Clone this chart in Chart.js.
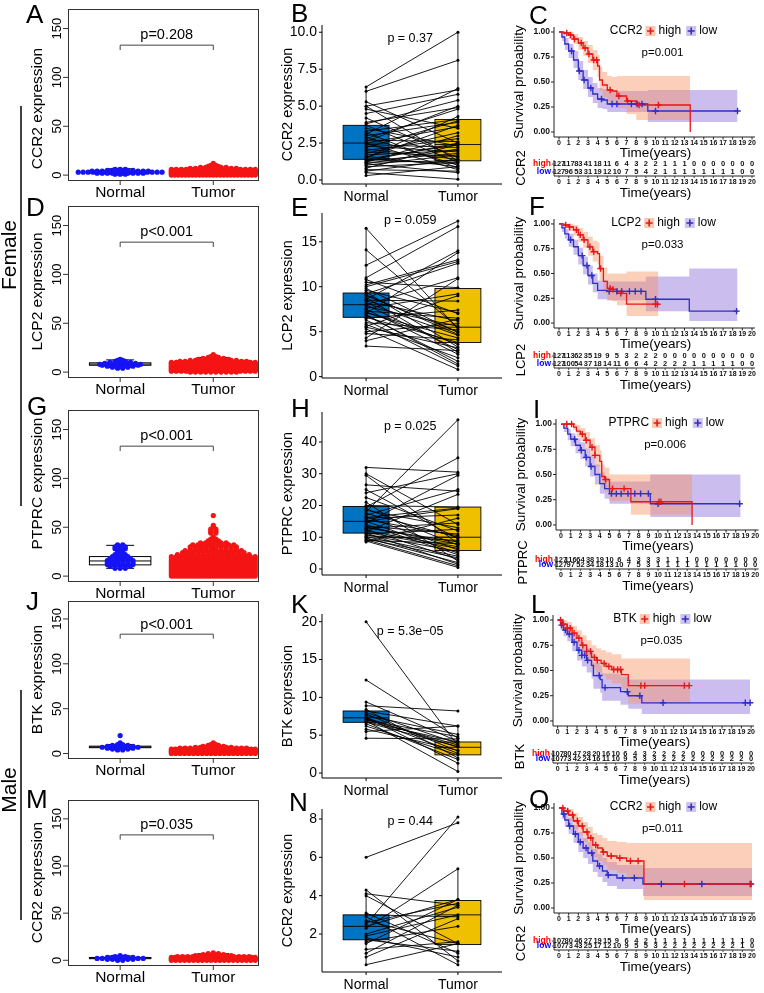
<!DOCTYPE html>
<html>
<head>
<meta charset="utf-8">
<script src="https://cdn.jsdelivr.net/npm/chart.js@4.4.0/dist/chart.umd.min.js"></script>
<style>
html, body { margin: 0; padding: 0; background: #fff; }
#wrap { position: relative; width: 764px; height: 993px; overflow: hidden; background: #fff; }
#wrap canvas { position: absolute; left: 0; top: 0; }
</style>
</head>
<body>
<div id="wrap"></div>
<script>
const W = 764, H = 993;
const FF = '"Liberation Sans", Arial, Helvetica, sans-serif';
const groups = ['Normal', 'Tumor'];

// ---------- left column: dot plots (level -> number of samples) ----------
const dotYTicks = [0, 50, 100, 150];

// A  CCR2 female
const aNormLv = [1, 2, 3, 4, 5, 6];
const aNormN = [3, 10, 18, 12, 6, 3];
const aTumLv = [0, 1, 2, 3, 4, 5, 6, 7, 8, 9, 10, 12];
const aTumN = [25, 55, 60, 50, 40, 28, 18, 10, 6, 3, 2, 1];
const aNormBox = [1, 2.2, 3, 4, 6.5];
const aTumBox = [0, 1.5, 2.5, 4, 8];

// D  LCP2 female
const dNormLv = [4, 5, 6, 7, 8, 9, 10, 11, 12, 13];
const dNormN = [2, 4, 6, 8, 9, 7, 5, 3, 2, 1];
const dTumLv = [0, 1, 2, 3, 4, 5, 6, 7, 8, 9, 10, 11, 12, 13, 14, 15, 16, 18];
const dTumN = [10, 18, 25, 30, 32, 32, 30, 28, 25, 22, 18, 14, 10, 7, 5, 3, 2, 1];
const dNormBox = [5, 7, 8.2, 9.5, 12.5];
const dTumBox = [0.5, 3.5, 6, 9, 15];

// G  PTPRC female
const gNormLv = [8, 10, 12, 14, 16, 18, 20, 22, 24, 26, 28, 30, 32];
const gNormN = [3, 5, 6, 6, 6, 5, 4, 3, 2, 2, 3, 3, 2];
const gTumLv = [0, 2, 4, 6, 8, 10, 12, 14, 16, 18, 20, 22, 24, 26, 28, 30, 32, 34, 36, 38, 40, 44, 46, 48, 50, 52, 62];
const gTumN = [35, 40, 40, 38, 36, 32, 28, 25, 22, 20, 18, 15, 13, 12, 10, 10, 9, 6, 3, 2, 1, 2, 2, 2, 1, 1, 1];
const gNormBox = [8, 11.5, 15.5, 20, 31.5];
const gTumBox = [0, 5, 10, 17, 33];

// J  BTK male
const jNormLv = [4, 5, 6, 7, 8, 9, 10, 12, 20];
const jNormN = [2, 4, 6, 8, 6, 4, 2, 1, 1];
const jTumLv = [0, 1, 2, 3, 4, 5, 6, 7, 8, 9, 10, 11, 12];
const jTumN = [20, 35, 40, 38, 30, 22, 14, 8, 5, 3, 2, 1, 1];
const jNormBox = [4.5, 6.5, 7.3, 8.2, 10];
const jTumBox = [0.3, 2, 3.3, 4.5, 8];

// M  CCR2 male
const mNormLv = [0, 1, 2, 3, 4, 5];
const mNormN = [2, 6, 10, 6, 3, 1];
const mTumLv = [0, 1, 2, 3, 4, 5, 6, 7, 8];
const mTumN = [20, 35, 35, 25, 15, 8, 5, 3, 1];
const mNormBox = [0.5, 1.7, 2.4, 3, 4.5];
const mTumBox = [0.2, 1.5, 2.5, 3.8, 7];

// ---------- middle column: paired samples ----------
const bNorm = [6.3, 6.0, 5.3, 5.0, 5.0, 4.8, 4.5, 4.2, 3.9, 3.8, 3.7, 3.5, 3.3, 3.2, 3.1, 3.0, 2.9, 2.8, 2.7, 2.6, 2.5, 2.5, 2.4, 2.3, 2.2, 2.1, 2.0, 1.9, 1.8, 1.7, 1.6, 1.5, 1.4, 1.4, 1.3, 1.3, 1.2, 1.2, 1.1, 1.1, 1.0, 0.9, 0.8, 0.7, 0.6, 0.5, 0.3, 1.5];
const bTum = [10.0, 8.1, 2.5, 1.3, 6.1, 3.5, 5.8, 1.5, 4.9, 5.4, 1.2, 2.3, 4.1, 0.8, 6.2, 3.9, 1.0, 4.8, 2.6, 5.0, 0.7, 3.6, 2.2, 1.9, 4.0, 1.4, 2.8, 1.6, 3.2, 2.0, 0.9, 4.3, 2.4, 1.1, 2.5, 1.8, 3.0, 1.3, 2.1, 0.5, 1.7, 1.2, 2.4, 0.6, 1.4, 0.05, 0.9, 3.7];
const bNormBox = [0.3, 1.4, 2.5, 3.7, 6.3];
const bTumBox = [0.05, 1.3, 2.4, 4.1, 10];
const bTicks = [0, 2.5, 5, 7.5, 10];

const eNorm = [16.5, 14.1, 12.4, 11.0, 10.5, 10.2, 10.0, 9.8, 9.6, 9.4, 9.2, 9.0, 8.8, 8.6, 8.4, 8.2, 8.0, 8.0, 7.8, 7.6, 7.5, 7.3, 7.1, 7.0, 6.8, 6.6, 6.5, 6.3, 6.0, 5.8, 5.6, 5.3, 5.0, 4.8, 4.3, 4.0, 3.4, 9.1, 7.2, 8.5, 6.9, 10.8, 5.5];
const eTum = [5.3, 5.5, 17.3, 16.7, 9.9, 13.0, 12.8, 4.9, 7.1, 3.3, 12.6, 5.0, 2.7, 14.0, 6.2, 4.6, 11.0, 3.0, 5.6, 9.2, 2.5, 6.5, 4.3, 13.8, 1.7, 3.8, 7.4, 1.2, 5.2, 2.1, 9.0, 0.8, 5.9, 4.1, 10.9, 6.4, 2.9, 4.7, 3.6, 8.4, 1.4, 7.0, 3.2];
const eNormBox = [3.4, 6.6, 8.0, 9.3, 16.5];
const eTumBox = [0.8, 3.8, 5.5, 9.8, 17.3];
const eTicks = [0, 5, 10, 15];

const hNorm = [32, 30, 29.5, 26.5, 25, 24, 22.5, 21, 20, 19.5, 19, 18.5, 18, 17.5, 17, 16.5, 16, 15.5, 15, 15, 14.5, 14, 13.5, 13, 12.8, 12.5, 12, 11.8, 11.5, 11.3, 11, 10.8, 10.5, 10.2, 10, 9.8, 9.5, 9.2, 9, 8.8, 8.5, 16.2, 13.2];
const hTum = [30.5, 14, 8, 24.5, 9.5, 30, 12, 2.5, 19.5, 35, 7.5, 13, 47, 10, 25, 6, 17, 10.5, 5, 19, 29.5, 4.5, 11, 8.5, 14.5, 3, 7, 23.5, 6.5, 1.5, 12.5, 5.5, 9, 4, 10, 2, 3.5, 1, 8, 0.5, 16, 19.2, 7.8];
const hNormBox = [8.5, 11.3, 15, 19.7, 32];
const hTumBox = [0.5, 5.8, 10, 19.5, 47];
const hTicks = [0, 10, 20, 30, 40];

const kNorm = [20, 12.3, 9.4, 8.9, 8.2, 8.0, 7.8, 7.6, 7.4, 7.3, 7.2, 7.0, 6.9, 6.8, 6.7, 6.5, 6.2, 5.8, 5.5, 4.6, 8.4, 7.1];
const kTum = [3.6, 4.6, 4.2, 8.2, 6.2, 3.9, 2.9, 5.1, 1.3, 3.4, 2.6, 4.8, 0.2, 4.1, 3.5, 1.8, 2.4, 3.0, 6.2, 4.5, 2.0, 3.7];
const kNormBox = [4.5, 6.7, 7.3, 8.2, 9.5];
const kTumBox = [0.2, 2.4, 3.4, 4.1, 6.2];
const kTicks = [0, 5, 10, 15, 20];

const nNorm = [6.0, 4.3, 4.1, 4.0, 3.0, 2.9, 2.7, 2.5, 2.4, 2.3, 2.0, 1.9, 1.8, 1.7, 1.6, 1.5, 1.2, 1.0, 0.8, 0.4, 2.6, 3.1];
const nTum = [7.8, 0.6, 3.5, 1.5, 2.9, 0.4, 1.5, 8.1, 3.8, 5.4, 3.4, 3.0, 0.8, 1.1, 2.4, 3.8, 1.6, 3.5, 2.8, 1.5, 3.6, 1.0];
const nNormBox = [0.4, 1.7, 2.4, 3.0, 4.3];
const nTumBox = [0.4, 1.45, 3.0, 3.75, 5.4];
const nTicks = [2, 4, 6, 8];

// ---------- right column: survival ----------
const kmXTicks = [0, 1, 2, 3, 4, 5, 6, 7, 8, 9, 10, 11, 12, 13, 14, 15, 16, 17, 18, 19, 20];
const kmYTicks = [0, 0.25, 0.5, 0.75, 1];
const kmYLabels = ['0.00', '0.25', '0.50', '0.75', '1.00'];

// C  CCR2 female
const cHiT = [0, 0.5, 1, 1.5, 2, 2.5, 3, 3.5, 4, 4.2, 4.5, 5, 5.5, 6, 7, 8, 9, 13.6];
const cHiS = [1, 0.99, 0.97, 0.93, 0.89, 0.84, 0.78, 0.72, 0.66, 0.52, 0.47, 0.42, 0.41, 0.36, 0.31, 0.27, 0.27, 0];
const cHiU = [1, 1, 1, 0.98, 0.95, 0.91, 0.87, 0.82, 0.77, 0.65, 0.6, 0.56, 0.55, 0.56, 0.56, 0.56, 0.56, 0.56];
const cHiL = [1, 0.97, 0.93, 0.88, 0.82, 0.76, 0.69, 0.62, 0.55, 0.41, 0.35, 0.3, 0.29, 0.24, 0.18, 0.12, 0.12, 0.12];
const cHiCens = [0.8, 1.2, 1.6, 2.3, 2.7, 3.1, 3.6, 3.9, 5.3, 6.2, 7.1, 8.3, 10.3];
const cLoT = [0, 0.3, 0.6, 1, 1.5, 2, 2.5, 3, 3.5, 4, 4.5, 5, 9.2, 18.5];
const cLoS = [1, 0.95, 0.88, 0.81, 0.72, 0.61, 0.52, 0.44, 0.38, 0.33, 0.32, 0.28, 0.21, 0.21];
const cLoU = [1, 0.99, 0.94, 0.88, 0.81, 0.71, 0.62, 0.55, 0.49, 0.44, 0.43, 0.41, 0.42, 0.42];
const cLoL = [1, 0.91, 0.82, 0.74, 0.64, 0.52, 0.43, 0.35, 0.29, 0.24, 0.23, 0.2, 0.1, 0.1];
const cLoCens = [1.3, 2.1, 2.6, 3.3, 4.4, 5.5, 6.0, 7.5, 8.1, 8.6, 10.0, 18.5];
const cRiskHi = [127, 117, 83, 41, 18, 11, 6, 4, 3, 2, 2, 1, 1, 1, 0, 0, 0, 0, 0, 0, 0];
const cRiskLo = [127, 96, 53, 31, 19, 12, 10, 7, 5, 4, 2, 1, 1, 1, 1, 1, 1, 1, 1, 0, 0];

// F  LCP2 female
const fHiT = [0, 0.5, 1, 1.5, 2, 2.5, 3, 3.5, 4, 4.2, 4.6, 5, 5.5, 6, 7, 10.3];
const fHiS = [1, 0.99, 0.97, 0.94, 0.89, 0.84, 0.77, 0.72, 0.70, 0.55, 0.42, 0.35, 0.34, 0.30, 0.19, 0.19];
const fHiU = [1, 1, 1, 0.99, 0.96, 0.92, 0.87, 0.83, 0.81, 0.68, 0.56, 0.5, 0.5, 0.5, 0.52, 0.52];
const fHiL = [1, 0.97, 0.93, 0.88, 0.82, 0.76, 0.68, 0.62, 0.59, 0.43, 0.3, 0.23, 0.22, 0.18, 0.07, 0.07];
const fHiCens = [0.7, 1.1, 1.8, 2.2, 2.6, 3.2, 3.6, 4.3, 5.3, 5.6, 6.4, 10.0, 10.2];
const fLoT = [0, 0.3, 0.6, 1, 1.5, 2, 2.5, 3, 3.5, 4, 5, 6, 9, 13.5, 18.5];
const fLoS = [1, 0.96, 0.9, 0.84, 0.77, 0.68, 0.58, 0.48, 0.40, 0.33, 0.32, 0.32, 0.24, 0.12, 0.12];
const fLoU = [1, 0.99, 0.95, 0.9, 0.84, 0.76, 0.67, 0.58, 0.5, 0.43, 0.42, 0.42, 0.47, 0.55, 0.55];
const fLoL = [1, 0.92, 0.85, 0.77, 0.69, 0.59, 0.49, 0.39, 0.31, 0.24, 0.23, 0.23, 0.12, 0.02, 0.02];
const fLoCens = [1.2, 2.4, 2.9, 3.4, 5.2, 6.0, 6.5, 7.3, 7.9, 8.5, 10, 18.4];
const fRiskHi = [127, 113, 62, 35, 19, 9, 5, 3, 2, 2, 2, 0, 0, 0, 0, 0, 0, 0, 0, 0, 0];
const fRiskLo = [127, 100, 54, 37, 18, 14, 11, 6, 6, 4, 2, 2, 2, 2, 1, 1, 1, 1, 1, 0, 0];

// I  PTPRC female
const iHiT = [0, 0.5, 1, 1.3, 1.6, 2, 2.5, 3, 3.5, 4, 4.2, 4.5, 5, 7.2, 13.5];
const iHiS = [1, 1, 1, 0.97, 0.93, 0.9, 0.84, 0.77, 0.69, 0.63, 0.48, 0.45, 0.36, 0.23, 0];
const iHiU = [1, 1, 1, 1, 0.99, 0.96, 0.92, 0.86, 0.79, 0.74, 0.6, 0.57, 0.5, 0.5, 0.5];
const iHiL = [1, 1, 1, 0.94, 0.87, 0.83, 0.76, 0.67, 0.58, 0.52, 0.37, 0.33, 0.24, 0.1, 0.1];
const iHiCens = [0.6, 1.1, 2.2, 2.6, 3.2, 3.5, 4.6, 5.3, 6.5, 10.1, 10.3];
const iLoT = [0, 0.3, 0.7, 1, 1.5, 2, 2.5, 3, 3.5, 4, 4.5, 5, 9.2, 18.5];
const iLoS = [1, 0.96, 0.9, 0.85, 0.79, 0.74, 0.67, 0.58, 0.5, 0.41, 0.36, 0.31, 0.21, 0.21];
const iLoU = [1, 1, 0.95, 0.91, 0.86, 0.82, 0.76, 0.68, 0.6, 0.52, 0.47, 0.43, 0.5, 0.5];
const iLoL = [1, 0.92, 0.84, 0.78, 0.71, 0.65, 0.58, 0.48, 0.4, 0.31, 0.26, 0.21, 0.08, 0.08];
const iLoCens = [1.4, 2.1, 2.6, 3.1, 5.2, 5.7, 6.2, 6.9, 7.6, 8.2, 9.0, 10.0, 18.4];
const iRiskHi = [127, 116, 64, 38, 19, 10, 6, 4, 3, 3, 3, 1, 1, 1, 0, 0, 0, 0, 0, 0, 0];
const iRiskLo = [127, 97, 52, 34, 18, 13, 10, 7, 5, 3, 1, 1, 1, 1, 1, 1, 1, 1, 1, 0, 0];

// L  BTK male
const lHiT = [0, 0.5, 1, 1.5, 2, 2.5, 3, 3.5, 4, 4.5, 5, 5.6, 6.6, 7.3, 13.7];
const lHiS = [1, 0.96, 0.92, 0.87, 0.82, 0.75, 0.69, 0.63, 0.6, 0.57, 0.54, 0.51, 0.46, 0.35, 0.35];
const lHiU = [1, 1, 0.98, 0.94, 0.9, 0.85, 0.8, 0.75, 0.72, 0.7, 0.68, 0.66, 0.62, 0.62, 0.62];
const lHiL = [1, 0.92, 0.86, 0.8, 0.74, 0.66, 0.59, 0.52, 0.48, 0.45, 0.41, 0.37, 0.32, 0.17, 0.17];
const lHiCens = [0.3, 0.6, 1.0, 1.3, 1.7, 2.2, 2.6, 3.0, 3.4, 3.8, 4.1, 4.8, 5.3, 5.8, 6.2, 6.5, 8.6, 9.0, 13.1, 13.6];
const lLoT = [0, 0.3, 0.6, 1, 1.5, 2, 2.5, 3, 3.5, 3.7, 4.4, 4.6, 6.5, 7.3, 8.7, 19.9];
const lLoS = [1, 0.95, 0.9, 0.86, 0.78, 0.7, 0.65, 0.6, 0.55, 0.45, 0.41, 0.33, 0.29, 0.25, 0.18, 0.18];
const lLoU = [1, 0.99, 0.96, 0.93, 0.87, 0.8, 0.76, 0.72, 0.68, 0.58, 0.55, 0.47, 0.44, 0.41, 0.41, 0.41];
const lLoL = [1, 0.9, 0.84, 0.79, 0.69, 0.6, 0.54, 0.48, 0.42, 0.32, 0.28, 0.2, 0.16, 0.12, 0.07, 0.07];
const lLoCens = [0.4, 0.8, 1.2, 1.7, 2.2, 2.5, 2.8, 3.1, 4.3, 4.9, 7.2, 8.5, 10.9, 19.4, 19.9];
const lRiskHi = [107, 80, 47, 28, 20, 16, 10, 6, 4, 3, 2, 2, 2, 2, 0, 0, 0, 0, 0, 0, 0];
const lRiskLo = [107, 73, 42, 24, 16, 11, 10, 9, 5, 3, 3, 2, 2, 2, 2, 2, 2, 2, 2, 2, 0];

// O  CCR2 male
const oHiT = [0, 0.5, 1, 1.5, 2, 2.5, 3, 3.5, 4, 4.5, 5, 6, 7, 8.8, 20];
const oHiS = [1, 0.97, 0.93, 0.87, 0.82, 0.76, 0.7, 0.63, 0.6, 0.56, 0.52, 0.5, 0.47, 0.24, 0.24];
const oHiU = [1, 1, 0.99, 0.95, 0.91, 0.86, 0.81, 0.75, 0.73, 0.7, 0.67, 0.66, 0.65, 0.65, 0.65];
const oHiL = [1, 0.93, 0.87, 0.79, 0.73, 0.66, 0.59, 0.51, 0.47, 0.43, 0.38, 0.35, 0.31, 0.08, 0.08];
const oHiCens = [0.4, 0.9, 1.4, 1.9, 2.4, 2.9, 3.3, 3.8, 4.6, 5.4, 6.3, 7.4, 8.2, 13.0, 19.8];
const oLoT = [0, 0.3, 0.6, 1, 1.5, 2, 2.5, 3, 3.5, 4, 4.5, 5, 6, 8.7, 20];
const oLoS = [1, 0.94, 0.88, 0.82, 0.74, 0.66, 0.6, 0.55, 0.47, 0.42, 0.37, 0.33, 0.3, 0.24, 0.24];
const oLoU = [1, 0.99, 0.95, 0.9, 0.83, 0.76, 0.7, 0.66, 0.59, 0.54, 0.5, 0.46, 0.43, 0.4, 0.4];
const oLoL = [1, 0.89, 0.81, 0.74, 0.65, 0.56, 0.5, 0.44, 0.36, 0.31, 0.26, 0.22, 0.19, 0.12, 0.12];
const oLoCens = [0.5, 1.1, 1.7, 2.2, 2.8, 3.4, 4.2, 5.1, 6.6, 7.8, 10.6, 14.8, 19.9];
const oRiskHi = [107, 80, 46, 27, 19, 15, 9, 6, 4, 2, 1, 1, 1, 1, 1, 1, 1, 1, 1, 1, 0];
const oRiskLo = [107, 73, 43, 25, 17, 12, 10, 9, 5, 5, 3, 2, 2, 2, 2, 2, 2, 2, 2, 1, 0];

// ---------- helpers ----------
function addChart(area, xr, yr, datasets, before, after) {
  const cv = document.createElement('canvas');
  cv.width = W; cv.height = H;
  cv.style.width = W + 'px'; cv.style.height = H + 'px';
  document.getElementById('wrap').appendChild(cv);
  return new Chart(cv.getContext('2d'), {
    type: 'scatter',
    data: { datasets },
    options: {
      responsive: false, animation: false, devicePixelRatio: 1, events: [],
      layout: { padding: { left: area.x0, top: area.y0, right: W - area.x1, bottom: H - area.y1 } },
      scales: {
        x: { type: 'linear', display: false, min: xr[0], max: xr[1] },
        y: { type: 'linear', display: false, min: yr[0], max: yr[1] }
      },
      plugins: { legend: { display: false }, tooltip: { enabled: false } }
    },
    plugins: [{
      id: 'deco',
      beforeDatasetsDraw(ch) { if (before) before(ch.ctx, ch.scales.x, ch.scales.y, ch.chartArea); },
      afterDatasetsDraw(ch) { if (after) after(ch.ctx, ch.scales.x, ch.scales.y, ch.chartArea); }
    }]
  });
}

function txt(ctx, s, x, y, font, color, align, rot, base) {
  ctx.save();
  ctx.translate(x, y);
  if (rot) ctx.rotate(rot);
  ctx.font = font;
  ctx.fillStyle = color || '#000';
  ctx.textAlign = align || 'center';
  ctx.textBaseline = base || 'middle';
  ctx.fillText(s, 0, 0);
  ctx.restore();
}

function seg(ctx, x1, y1, x2, y2, color, w) {
  ctx.save();
  ctx.strokeStyle = color || '#000';
  ctx.lineWidth = w || 1;
  ctx.beginPath(); ctx.moveTo(x1, y1); ctx.lineTo(x2, y2); ctx.stroke();
  ctx.restore();
}

function letter(ctx, s, x, y) {
  txt(ctx, s, x, y, '26px ' + FF, '#000', 'left', 0, 'alphabetic');
}

function drawBox(ctx, xs, ys, cx, b, hw, capw, fill, lw) {
  const l = xs.getPixelForValue(cx - hw), r = xs.getPixelForValue(cx + hw);
  const xc = xs.getPixelForValue(cx);
  const p = b.map(v => ys.getPixelForValue(v));
  ctx.save();
  ctx.strokeStyle = '#000';
  ctx.lineWidth = lw || 1;
  if (fill) { ctx.fillStyle = fill; ctx.fillRect(l, p[3], r - l, p[1] - p[3]); }
  ctx.strokeRect(l, p[3], r - l, p[1] - p[3]);
  ctx.beginPath();
  ctx.moveTo(l, p[2]); ctx.lineTo(r, p[2]);
  ctx.moveTo(xc, p[3]); ctx.lineTo(xc, p[4]);
  ctx.moveTo(xc, p[1]); ctx.lineTo(xc, p[0]);
  if (capw) {
    const cl = xs.getPixelForValue(cx - capw), cr = xs.getPixelForValue(cx + capw);
    ctx.moveTo(cl, p[4]); ctx.lineTo(cr, p[4]);
    ctx.moveTo(cl, p[0]); ctx.lineTo(cr, p[0]);
  }
  ctx.stroke();
  ctx.restore();
}

// spread the samples of each level sideways (simple beeswarm)
function swarm(lv, n, cx) {
  const out = [];
  lv.forEach((v, i) => {
    const k = n[i];
    const step = k > 1 ? Math.min(0.055, 0.9 / (k - 1)) : 0;
    for (let j = 0; j < k; j++) out.push({ x: cx + (j - (k - 1) / 2) * step, y: v });
  });
  return out;
}

function xy(X, Y) { return X.map((x, i) => ({ x: x, y: Y[i] })); }

function stepAt(T, S, t) {
  let v = S[0];
  for (let i = 0; i < T.length; i++) if (T[i] <= t) v = S[i];
  return v;
}

// ---------- left column panel ----------
function dotPanel(c) {
  const ds = [
    { data: swarm(c.nLv, c.nN, 1), pointRadius: 2.6, pointBackgroundColor: '#1414f5', pointBorderWidth: 0, clip: false },
    { data: swarm(c.tLv, c.tN, 2), pointRadius: 2.6, pointBackgroundColor: '#f51414', pointBorderWidth: 0, clip: false }
  ];
  addChart(c.area, [0.44, 2.48], [-5, 170], ds,
    (ctx, xs, ys) => {
      drawBox(ctx, xs, ys, 1, c.nBox, 0.33, 0.15, null, 1);
      drawBox(ctx, xs, ys, 2, c.tBox, 0.33, 0.17, null, 1);
    },
    (ctx, xs, ys, a) => {
      ctx.save();
      ctx.strokeStyle = '#333'; ctx.lineWidth = 1;
      ctx.strokeRect(a.left + 0.5, a.top + 0.5, a.right - a.left, a.bottom - a.top);
      ctx.restore();
      dotYTicks.forEach(v => {
        const y = ys.getPixelForValue(v);
        seg(ctx, a.left - 5, y, a.left, y, '#333', 1);
        txt(ctx, String(v), a.left - 11, y, '13px ' + FF, '#000', 'center', -Math.PI / 2);
      });
      groups.forEach((g, i) => {
        const x = xs.getPixelForValue(i + 1);
        seg(ctx, x, a.bottom, x, a.bottom + 5, '#333', 1);
        txt(ctx, g, x, a.bottom + 13, '15.5px ' + FF, '#000');
      });
      const bx1 = xs.getPixelForValue(1), bx2 = xs.getPixelForValue(2);
      const by = ys.getPixelForValue(133), bd = ys.getPixelForValue(128);
      ctx.save();
      ctx.strokeStyle = '#444'; ctx.lineWidth = 1;
      ctx.beginPath(); ctx.moveTo(bx1, bd); ctx.lineTo(bx1, by); ctx.lineTo(bx2, by); ctx.lineTo(bx2, bd); ctx.stroke();
      ctx.restore();
      txt(ctx, c.p, (bx1 + bx2) / 2, ys.getPixelForValue(143), '14.5px ' + FF, '#000');
      txt(ctx, c.gene + ' expression', a.left - 30, (a.top + a.bottom) / 2 + (c.titleShift || 0), '15.5px ' + FF, '#000', 'center', -Math.PI / 2);
      letter(ctx, c.letter, c.lx, c.ly);
      if (c.extra) c.extra(ctx);
    });
}

// ---------- middle column panel ----------
function pairPanel(c) {
  const data = [];
  c.norm.forEach((v, i) => { data.push({ x: 1, y: v }, { x: 2, y: c.tum[i] }, { x: 1.5, y: null }); });
  const ds = [{
    type: 'line', data: data, borderColor: '#000', borderWidth: 0.9, spanGaps: false,
    pointRadius: 1.5, pointBackgroundColor: '#000', pointBorderWidth: 0, fill: false, clip: false
  }];
  addChart(c.area, [0.52, 2.48], c.yr, ds,
    (ctx, xs, ys) => {
      drawBox(ctx, xs, ys, 1, c.nBox, 0.25, 0, '#0073C2', 0.9);
      drawBox(ctx, xs, ys, 2, c.tBox, 0.25, 0, '#EFC000', 0.9);
    },
    (ctx, xs, ys, a) => {
      seg(ctx, a.left, a.top, a.left, a.bottom, '#000', 1);
      seg(ctx, a.left, a.bottom, a.right, a.bottom, '#000', 1);
      c.ticks.forEach(v => {
        const y = ys.getPixelForValue(v);
        seg(ctx, a.left - 3, y, a.left, y, '#000', 1);
        txt(ctx, c.tickFmt ? v.toFixed(1) : String(v), a.left - 5, y, '14px ' + FF, '#000', 'right');
      });
      groups.forEach((g, i) => {
        const x = xs.getPixelForValue(i + 1);
        seg(ctx, x, a.bottom, x, a.bottom + 3, '#000', 1);
        txt(ctx, g, x, a.bottom + 13, '14px ' + FF, '#000');
      });
      txt(ctx, c.gene + ' expression', a.left - 34, (a.top + a.bottom) / 2, '14.5px ' + FF, '#000', 'center', -Math.PI / 2);
      txt(ctx, c.p, xs.getPixelForValue(1.48), c.pY, '12.5px ' + FF, '#000');
      letter(ctx, c.letter, c.lx, c.ly);
    });
}

// ---------- right column panel ----------
const RED = '#e8161b', BLUE = '#2f2fc8';
const BAND_HI = 'rgba(247,140,90,0.42)', BAND_LO = 'rgba(130,100,215,0.42)';

function kmPanel(c) {
  const hi = c.hi, lo = c.lo;
  const cens = (g) => g.c.map(t => ({ x: t, y: stepAt(g.t, g.s, t) }));
  const ds = [
    { data: cens(hi), pointStyle: 'cross', pointRadius: 3.2, pointBorderColor: RED, pointBorderWidth: 1.4, clip: false },
    { data: cens(lo), pointStyle: 'cross', pointRadius: 3.2, pointBorderColor: BLUE, pointBorderWidth: 1.4, clip: false },
    { type: 'line', data: xy(hi.t, hi.s), stepped: true, borderColor: RED, borderWidth: 1.3, pointRadius: 0, fill: false, clip: false },
    { type: 'line', data: xy(lo.t, lo.s), stepped: true, borderColor: BLUE, borderWidth: 1.3, pointRadius: 0, fill: false, clip: false },
    { type: 'line', data: xy(hi.t, hi.u), stepped: true, borderWidth: 0, borderColor: 'rgba(0,0,0,0)', pointRadius: 0, fill: false },
    { type: 'line', data: xy(hi.t, hi.l), stepped: true, borderWidth: 0, borderColor: 'rgba(0,0,0,0)', pointRadius: 0, fill: '-1', backgroundColor: BAND_HI },
    { type: 'line', data: xy(lo.t, lo.u), stepped: true, borderWidth: 0, borderColor: 'rgba(0,0,0,0)', pointRadius: 0, fill: false },
    { type: 'line', data: xy(lo.t, lo.l), stepped: true, borderWidth: 0, borderColor: 'rgba(0,0,0,0)', pointRadius: 0, fill: '-1', backgroundColor: BAND_LO }
  ];
  addChart(c.area, c.xr, [-0.05, 1.05], ds, null, (ctx, xs, ys, a) => {
    // axes
    seg(ctx, a.left, a.top, a.left, a.bottom, '#222', 1);
    seg(ctx, a.left, a.bottom, a.right, a.bottom, '#222', 1);
    kmYTicks.forEach((v, i) => {
      const y = ys.getPixelForValue(v);
      seg(ctx, a.left - 3, y, a.left, y, '#222', 1);
      txt(ctx, kmYLabels[i], a.left - 4, y, 'bold 8.5px ' + FF, '#111', 'right');
    });
    kmXTicks.forEach(v => {
      const x = xs.getPixelForValue(v);
      seg(ctx, x, a.bottom, x, a.bottom + 2.5, '#222', 1);
      txt(ctx, String(v), x, a.bottom + 6.5, 'bold 7px ' + FF, '#111');
    });
    const mid = xs.getPixelForValue(10);
    txt(ctx, 'Time(years)', mid, a.bottom + 16, '13.5px ' + FF, '#000');
    txt(ctx, 'Survival probability', a.left - 35, (a.top + a.bottom) / 2, '13.5px ' + FF, '#000', 'center', -Math.PI / 2);

    // legend
    ctx.save();
    ctx.font = '12px ' + FF;
    const wG = ctx.measureText(c.gene).width, wH = ctx.measureText('high').width, wL = ctx.measureText('low').width;
    ctx.restore();
    const key = 10, gap = 3;
    const total = wG + gap + key + gap + wH + gap + 2 + key + gap + wL;
    let lx = mid + 8 - total / 2;
    const ly = a.top + 4;
    txt(ctx, c.gene, lx, ly, '12px ' + FF, '#000', 'left');
    lx += wG + gap;
    [[RED, 'rgba(248,195,170,0.9)', 'high', wH], [BLUE, 'rgba(200,190,238,0.9)', 'low', wL]].forEach(([col, bg, lab, w]) => {
      ctx.save();
      ctx.fillStyle = bg; ctx.fillRect(lx, ly - key / 2, key, key);
      ctx.strokeStyle = col; ctx.lineWidth = 1.6;
      ctx.beginPath();
      ctx.moveTo(lx + 1.5, ly); ctx.lineTo(lx + key - 1.5, ly);
      ctx.moveTo(lx + key / 2, ly - key / 2 + 1.5); ctx.lineTo(lx + key / 2, ly + key / 2 - 1.5);
      ctx.stroke();
      ctx.restore();
      lx += key + gap;
      txt(ctx, lab, lx, ly, '12px ' + FF, '#000', 'left');
      lx += w + gap + 2;
    });
    txt(ctx, c.p, mid + 7, a.top + 26, '11.5px ' + FF, '#000');

    // risk table
    const rHi = a.bottom + c.rowA, rLo = rHi + c.rowGap, axY = rLo + 4;
    txt(ctx, c.gene, a.left - 33, (rHi + rLo) / 2, '13px ' + FF, '#000', 'center', -Math.PI / 2);
    txt(ctx, 'high', a.left - 3, rHi, 'bold 8.5px ' + FF, '#ff0000', 'right');
    txt(ctx, 'low', a.left - 3, rLo, 'bold 8.5px ' + FF, '#0000ff', 'right');
    seg(ctx, a.left, rHi - 4, a.left, axY, '#222', 0.8);
    seg(ctx, a.left - 2, rHi, a.left, rHi, '#222', 0.8);
    seg(ctx, a.left - 2, rLo, a.left, rLo, '#222', 0.8);
    seg(ctx, a.left, axY, a.right, axY, '#222', 1);
    kmXTicks.forEach((v, i) => {
      const x = xs.getPixelForValue(v);
      txt(ctx, String(c.riskHi[i]), x, rHi, 'bold 7.5px ' + FF, '#111');
      txt(ctx, String(c.riskLo[i]), x, rLo, 'bold 7.5px ' + FF, '#111');
      seg(ctx, x, axY, x, axY + 2, '#222', 0.8);
      txt(ctx, String(v), x, axY + 6, 'bold 7px ' + FF, '#111');
    });
    txt(ctx, 'Time(years)', mid, axY + 17, '13.5px ' + FF, '#000');
    letter(ctx, c.letter, c.lx, c.ly);
  });
}

// ---------- build ----------
function sexLabels(ctx) {
  txt(ctx, 'Female', 10, 255, '21px ' + FF, '#000', 'center', -Math.PI / 2);
  seg(ctx, 21, 106, 21, 506, '#000', 1.5);
  txt(ctx, 'Male', 10, 790, '21px ' + FF, '#000', 'center', -Math.PI / 2);
  seg(ctx, 21, 690, 21, 920, '#000', 1.5);
}

// survival panels first (their bottom texts sit under the next row)
kmPanel({ letter: 'C', lx: 529, ly: 24, area: { x0: 554, y0: 27, x1: 755, y1: 137 }, xr: [-0.52, 20.31], gene: 'CCR2', p: 'p=0.001',
  hi: { t: cHiT, s: cHiS, u: cHiU, l: cHiL, c: cHiCens }, lo: { t: cLoT, s: cLoS, u: cLoU, l: cLoL, c: cLoCens },
  riskHi: cRiskHi, riskLo: cRiskLo, rowA: 27, rowGap: 8 });
kmPanel({ letter: 'F', lx: 529, ly: 215, area: { x0: 554, y0: 219, x1: 755, y1: 328 }, xr: [-0.52, 20.31], gene: 'LCP2', p: 'p=0.033',
  hi: { t: fHiT, s: fHiS, u: fHiU, l: fHiL, c: fHiCens }, lo: { t: fLoT, s: fLoS, u: fLoU, l: fLoL, c: fLoCens },
  riskHi: fRiskHi, riskLo: fRiskLo, rowA: 28, rowGap: 8 });
kmPanel({ letter: 'I', lx: 533, ly: 418, area: { x0: 556, y0: 419, x1: 760, y1: 530 }, xr: [-0.51, 20.35], gene: 'PTPRC', p: 'p=0.006',
  hi: { t: iHiT, s: iHiS, u: iHiU, l: iHiL, c: iHiCens }, lo: { t: iLoT, s: iLoS, u: iLoU, l: iLoL, c: iLoCens },
  riskHi: iRiskHi, riskLo: iRiskLo, rowA: 30, rowGap: 5 });
kmPanel({ letter: 'L', lx: 531, ly: 613, area: { x0: 553, y0: 615, x1: 754, y1: 726 }, xr: [-0.48, 20.3], gene: 'BTK', p: 'p=0.035',
  hi: { t: lHiT, s: lHiS, u: lHiU, l: lHiL, c: lHiCens }, lo: { t: lLoT, s: lLoS, u: lLoU, l: lLoL, c: lLoCens },
  riskHi: lRiskHi, riskLo: lRiskLo, rowA: 28, rowGap: 5 });
kmPanel({ letter: 'O', lx: 529, ly: 808, area: { x0: 554, y0: 803, x1: 755, y1: 913 }, xr: [-0.52, 20.31], gene: 'CCR2', p: 'p=0.011',
  hi: { t: oHiT, s: oHiS, u: oHiU, l: oHiL, c: oHiCens }, lo: { t: oLoT, s: oLoS, u: oLoU, l: oLoL, c: oLoCens },
  riskHi: oRiskHi, riskLo: oRiskLo, rowA: 28, rowGap: 5 });

pairPanel({ letter: 'B', lx: 291, ly: 22, area: { x0: 322, y0: 25, x1: 502, y1: 184 }, yr: [-0.27, 10.49], ticks: bTicks, tickFmt: true,
  gene: 'CCR2', p: 'p = 0.37', pY: 39, norm: bNorm, tum: bTum, nBox: bNormBox, tBox: bTumBox });
pairPanel({ letter: 'E', lx: 291, ly: 216, area: { x0: 322, y0: 213, x1: 502, y1: 378 }, yr: [-0.15, 18.2], ticks: eTicks,
  gene: 'LCP2', p: 'p = 0.059', pY: 221, norm: eNorm, tum: eTum, nBox: eNormBox, tBox: eTumBox });
pairPanel({ letter: 'H', lx: 291, ly: 417, area: { x0: 322, y0: 412, x1: 502, y1: 575 }, yr: [-1.9, 49.45], ticks: hTicks,
  gene: 'PTPRC', p: 'p = 0.025', pY: 427, norm: hNorm, tum: hTum, nBox: hNormBox, tBox: hTumBox });
pairPanel({ letter: 'K', lx: 291, ly: 613, area: { x0: 322, y0: 614, x1: 502, y1: 778 }, yr: [-0.66, 21.02], ticks: kTicks,
  gene: 'BTK', p: 'p = 5.3e\u221205', pY: 632, norm: kNorm, tum: kTum, nBox: kNormBox, tBox: kTumBox });
pairPanel({ letter: 'N', lx: 289, ly: 811, area: { x0: 322, y0: 809, x1: 502, y1: 972 }, yr: [0.02, 8.52], ticks: nTicks,
  gene: 'CCR2', p: 'p = 0.44', pY: 822, norm: nNorm, tum: nTum, nBox: nNormBox, tBox: nTumBox });

dotPanel({ letter: 'A', lx: 26, ly: 23, area: { x0: 68, y0: 9, x1: 258, y1: 180 }, gene: 'CCR2', p: 'p=0.208', titleShift: 14,
  nLv: aNormLv, nN: aNormN, tLv: aTumLv, tN: aTumN, nBox: aNormBox, tBox: aTumBox, extra: sexLabels });
dotPanel({ letter: 'D', lx: 26, ly: 216, area: { x0: 68, y0: 206, x1: 258, y1: 377 }, gene: 'LCP2', p: 'p<0.001',
  nLv: dNormLv, nN: dNormN, tLv: dTumLv, tN: dTumN, nBox: dNormBox, tBox: dTumBox });
dotPanel({ letter: 'G', lx: 27, ly: 415, area: { x0: 68, y0: 410, x1: 258, y1: 581 }, gene: 'PTPRC', p: 'p<0.001', titleShift: -12,
  nLv: gNormLv, nN: gNormN, tLv: gTumLv, tN: gTumN, nBox: gNormBox, tBox: gTumBox });
dotPanel({ letter: 'J', lx: 26, ly: 610, area: { x0: 68, y0: 601, x1: 258, y1: 758 }, gene: 'BTK', p: 'p<0.001',
  nLv: jNormLv, nN: jNormN, tLv: jTumLv, tN: jTumN, nBox: jNormBox, tBox: jTumBox });
dotPanel({ letter: 'M', lx: 26, ly: 808, area: { x0: 68, y0: 800, x1: 258, y1: 965 }, gene: 'CCR2', p: 'p=0.035',
  nLv: mNormLv, nN: mNormN, tLv: mTumLv, tN: mTumN, nBox: mNormBox, tBox: mTumBox });
</script>
</body>
</html>
